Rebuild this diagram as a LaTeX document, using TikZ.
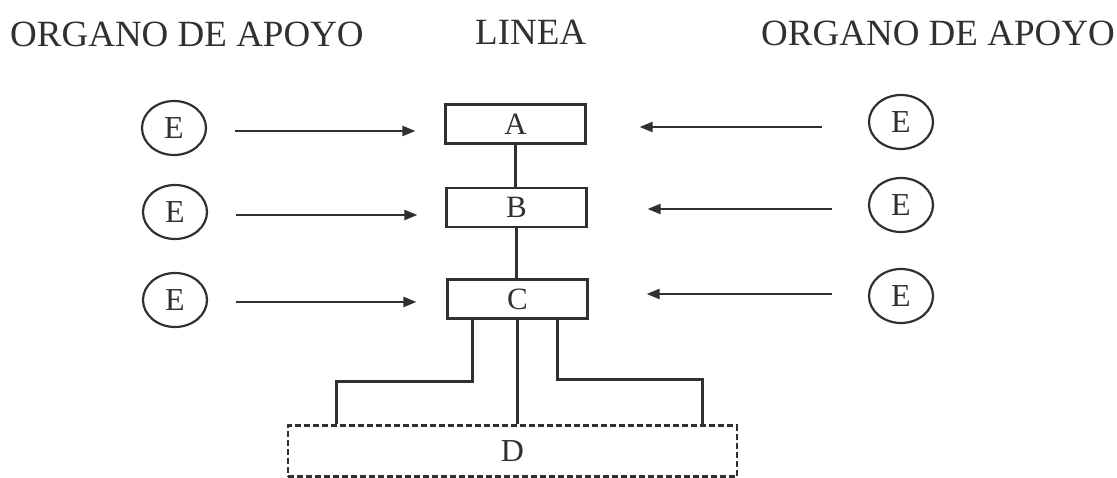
\documentclass[tikz,border=0pt]{standalone}
\usepackage{fontspec}
\setmainfont{Liberation Serif}
\usetikzlibrary{shapes.geometric,arrows.meta}
\definecolor{ink}{HTML}{303030}
\begin{document}
\begin{tikzpicture}[x=1pt,y=-1pt,
  ink/.style={draw=ink,line width=2.2pt},
  title/.style={text=ink,font=\fontsize{37}{40}\selectfont,inner sep=0pt},
  linebox/.style={ink,rectangle,minimum width=140pt,minimum height=39pt,inner sep=0pt,text=ink,font=\fontsize{31}{33}\selectfont},
  circ/.style={ink,ellipse,minimum width=64pt,minimum height=54pt,inner sep=0pt,text=ink,font=\fontsize{32}{34}\selectfont},
  dbox/.style={draw=ink,line width=2.2pt,dash pattern=on 6pt off 3pt,rectangle,minimum width=449pt,minimum height=51pt,inner sep=0pt,text=ink,font=\fontsize{32}{34}\selectfont},
  arr/.style={draw=ink,line width=2.2pt,-{Triangle[length=13pt,width=10pt]}},
  conn/.style={draw=ink,line width=2.2pt}
]
\useasboundingbox (0,0) rectangle (1117,478);
% titles
\node[title,anchor=base west] (t1) at (10,47) {ORGANO DE APOYO};
\node[title,anchor=base west] (t2) at (475,45) {LINEA};
\node[title,anchor=base east] (t3) at (1115,46) {ORGANO DE APOYO};
% line boxes
\node[linebox] (A) at (515.5,124) {A};
\node[linebox] (B) at (516.5,207.5) {B};
\node[linebox] (C) at (517.5,299) {C};
\node[dbox] (D) at (512.5,451) {D};
% circles
\node[circ] (l1) at (174,128) {E};
\node[circ] (l2) at (175,212) {E};
\node[circ] (l3) at (175,300) {E};
\node[circ] (r1) at (901,122) {E};
\node[circ] (r2) at (901,205) {E};
\node[circ] (r3) at (901,296) {E};
% vertical line connectors
\draw[conn] (A.south) -- (A.south |- B.north);
\draw[conn] (B.south) -- (B.south |- C.north);
\draw[conn] (C.south) -- (C.south |- D.north);
\draw[conn] ([xshift=-45pt]C.south) -- ++(0,62) -| ([xshift=-176pt]D.north);
\draw[conn] ([xshift=40pt]C.south) -- ++(0,60) -| ([xshift=190pt]D.north);
% left arrows
\draw[arr] ([xshift=28pt,yshift=-3pt]l1.east) -- ([xshift=-29pt,yshift=-3pt]l1.east -| A.west);
\draw[arr] ([xshift=28pt,yshift=-3pt]l2.east) -- ([xshift=-28pt,yshift=-3pt]l2.east -| B.west);
\draw[arr] ([xshift=28pt,yshift=-2pt]l3.east) -- ([xshift=-30pt,yshift=-2pt]l3.east -| C.west);
% right arrows
\draw[arr] ([xshift=-46pt,yshift=-5pt]r1.west) -- ([xshift=53pt,yshift=-5pt]r1.west -| A.east);
\draw[arr] ([xshift=-36pt,yshift=-4pt]r2.west) -- ([xshift=60pt,yshift=-4pt]r2.west -| B.east);
\draw[arr] ([xshift=-36pt,yshift=2pt]r3.west) -- ([xshift=58pt,yshift=2pt]r3.west -| C.east);
\end{tikzpicture}
\end{document}
